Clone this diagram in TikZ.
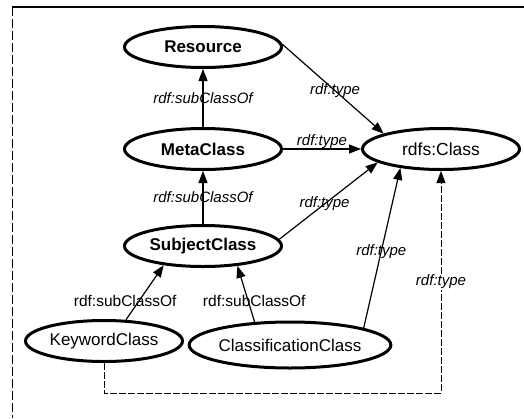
\documentclass[tikz,border=0pt]{standalone}
\usepackage{fontspec}
\setmainfont{Liberation Sans}
\usetikzlibrary{shapes.geometric,arrows.meta}
\begin{document}
\begin{tikzpicture}[x=1pt,y=-1pt,
  cls/.style={ellipse,draw,line width=3pt,minimum width=157pt,minimum height=41pt,inner sep=0pt,font=\fontsize{17}{20}\selectfont\bfseries},
  rel/.style={line width=1.2pt,-{Triangle[length=12pt,width=9pt]}},
  lbl/.style={font=\fontsize{15}{18}\selectfont\itshape,inner sep=1pt},
  ulbl/.style={font=\fontsize{15.5}{18}\selectfont,inner sep=1pt},
  dsh/.style={dash pattern=on 7pt off 2pt}]
\useasboundingbox (0,0) rectangle (524,418);
\draw[line width=1.5pt] (12,7) -- (524,7);
\draw[line width=1pt,dash pattern=on 9pt off 3pt] (12,7) -- (12,418);

\node[cls] (res) at (203,47) {Resource};
\node[cls] (meta) at (203,149) {MetaClass};
\node[cls,font=\fontsize{17.5}{20}\selectfont] (rdfs) at (441,149) {rdfs:Class};
\node[cls] (subj) at (203,246) {SubjectClass};
\node[cls,font=\fontsize{17}{20}\selectfont] (kw) at (104,341) {KeywordClass};
\node[cls,minimum width=174pt,minimum height=46pt,font=\fontsize{17}{20}\selectfont] (cc) at (290,345) {ClassificationClass};
\coordinate (c1) at (441,393);

\draw[rel] (meta) -- node[lbl]{rdf:subClassOf} (res);
\draw[rel] (subj) -- node[lbl]{rdf:subClassOf} (meta);
\draw[rel] (res.2) -- node[lbl,pos=0.52]{rdf:type} (rdfs.165);
\draw[rel] (meta.east) -- node[lbl,above,yshift=-1pt]{rdf:type} (rdfs.west);
\draw[rel] (subj.5) -- node[lbl,pos=0.46]{rdf:type} (rdfs.192);
\draw[rel] (cc.13) -- node[lbl,pos=0.48]{rdf:type} (rdfs.205);
\draw[rel] (kw.44) -- node[ulbl,pos=0.35,xshift=-14pt]{rdf:subClassOf} (subj.206);
\draw[rel] (cc.147) -- node[ulbl,pos=0.37,xshift=6pt]{rdf:subClassOf} (subj.330);
\draw[rel,line width=1pt,dsh] (kw.south) |- (c1) -- node[lbl,fill=white]{rdf:type} (rdfs.south);
\end{tikzpicture}
\end{document}
